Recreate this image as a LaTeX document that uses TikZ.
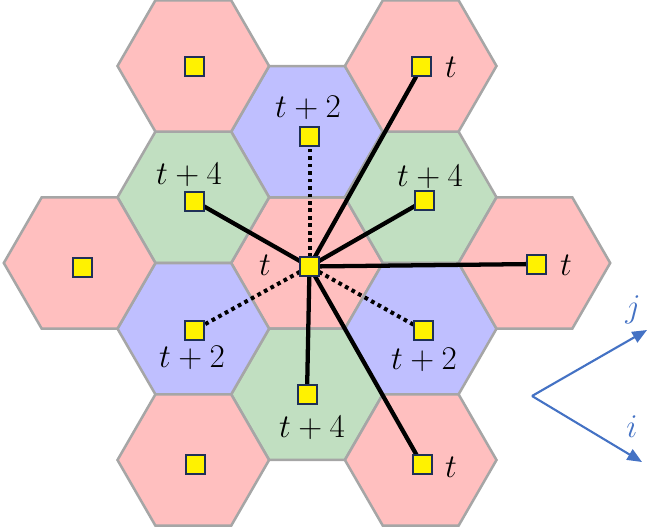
\documentclass[tikz,border=0pt]{standalone}
\usetikzlibrary{arrows.meta}
\pgfdeclarelayer{hexes}
\pgfdeclarelayer{links}
\pgfsetlayers{hexes,links,main}
\definecolor{hpink}{HTML}{FFBFBF}
\definecolor{hblue}{HTML}{BFBFFF}
\definecolor{hgreen}{HTML}{C1DFC1}
\definecolor{hgray}{HTML}{A6A6A6}
\definecolor{sqborder}{HTML}{1F3057}
\definecolor{axisblue}{HTML}{4472C4}
\newcommand{\hexcellat}[3]{\draw[hexcell,fill=#3,shift={(#1,#2)}] (0:75.8) -- (60:75.8) -- (120:75.8) -- (180:75.8) -- (240:75.8) -- (300:75.8) -- cycle;}
\begin{document}
\begin{tikzpicture}[x=0.75pt,y=-0.75pt,
  hexcell/.style={draw=hgray,line width=1.9pt,line join=miter},
  sq/.style={draw=sqborder,fill=yellow,line width=1.5pt,minimum size=14.25pt,inner sep=0pt,outer sep=0pt},
  lbl/.style={font=\fontsize{27}{32}\selectfont,inner sep=0pt},
  solidlink/.style={line width=3.2pt},
  dotlink/.style={line width=3pt,dash pattern=on 2.8pt off 2.8pt},
  axis/.style={draw=axisblue,line width=1.6pt,-{Triangle[length=11pt,width=9pt]}}]
\useasboundingbox (0,0) rectangle (664,528);
\begin{pgfonlayer}{hexes}
\hexcellat{307}{263}{hpink}
\hexcellat{307}{131.7}{hblue}
\hexcellat{307}{394.3}{hgreen}
\hexcellat{193.3}{197.3}{hgreen}
\hexcellat{420.7}{197.3}{hgreen}
\hexcellat{193.3}{328.7}{hblue}
\hexcellat{420.7}{328.7}{hblue}
\hexcellat{193.3}{66}{hpink}
\hexcellat{420.7}{66}{hpink}
\hexcellat{79.6}{263}{hpink}
\hexcellat{534.4}{263}{hpink}
\hexcellat{193.3}{460}{hpink}
\hexcellat{420.7}{460}{hpink}
\end{pgfonlayer}
% squares
\node[sq] (sC) at (309.5,266.5) {};
\node[sq] (sT) at (309.5,136) {};
\node[sq] (sB) at (307,394.5) {};
\node[sq] (sUL) at (194.5,201) {};
\node[sq] (sUR) at (424.5,200.5) {};
\node[sq] (sLL) at (194.5,330) {};
\node[sq] (sLR) at (423,330) {};
\node[sq] (sTL) at (194.5,66.5) {};
\node[sq] (sTR) at (421.5,67) {};
\node[sq] (sL) at (82.5,267) {};
\node[sq] (sR) at (536.5,264) {};
\node[sq] (sBL) at (195,464) {};
\node[sq] (sBR) at (422,464.5) {};
% labels
\node[lbl] (lT) at (308,108) {$t+2$};
\node[lbl] (lUL) at (189,175) {$t+4$};
\node[lbl] (lUR) at (430,177) {$t+4$};
\node[lbl] (lC) at (265,265) {$t$};
\node[lbl] (lLL) at (192,358) {$t+2$};
\node[lbl] (lLR) at (424,360) {$t+2$};
\node[lbl] (lB) at (312,428) {$t+4$};
\node[lbl] (lTR) at (451,67) {$t$};
\node[lbl] (lR) at (566,265) {$t$};
\node[lbl] (lBR) at (451,467) {$t$};
% links
\begin{pgfonlayer}{links}
\draw[solidlink] (sC) -- (sTR);
\draw[solidlink] (sC) -- (sUR);
\draw[solidlink] (sC) -- (sR);
\draw[solidlink] (sC) -- (sBR);
\draw[solidlink] (sC) -- (sB);
\draw[solidlink] (sC) -- (sUL);
\draw[dotlink] (sC) -- (sT);
\draw[dotlink] (sC) -- (sLL);
\draw[dotlink] (sC) -- (sLR);
\end{pgfonlayer}
% axes
\coordinate (o) at (532,396);
\coordinate (jt) at (647,330);
\coordinate (it) at (642,462);
\draw[axis] (o) -- (jt);
\draw[axis] (o) -- (it);
\node[lbl,text=axisblue] (lj) at (633,310) {$j$};
\node[lbl,text=axisblue] (li) at (632,427) {$i$};
\end{tikzpicture}
\end{document}
